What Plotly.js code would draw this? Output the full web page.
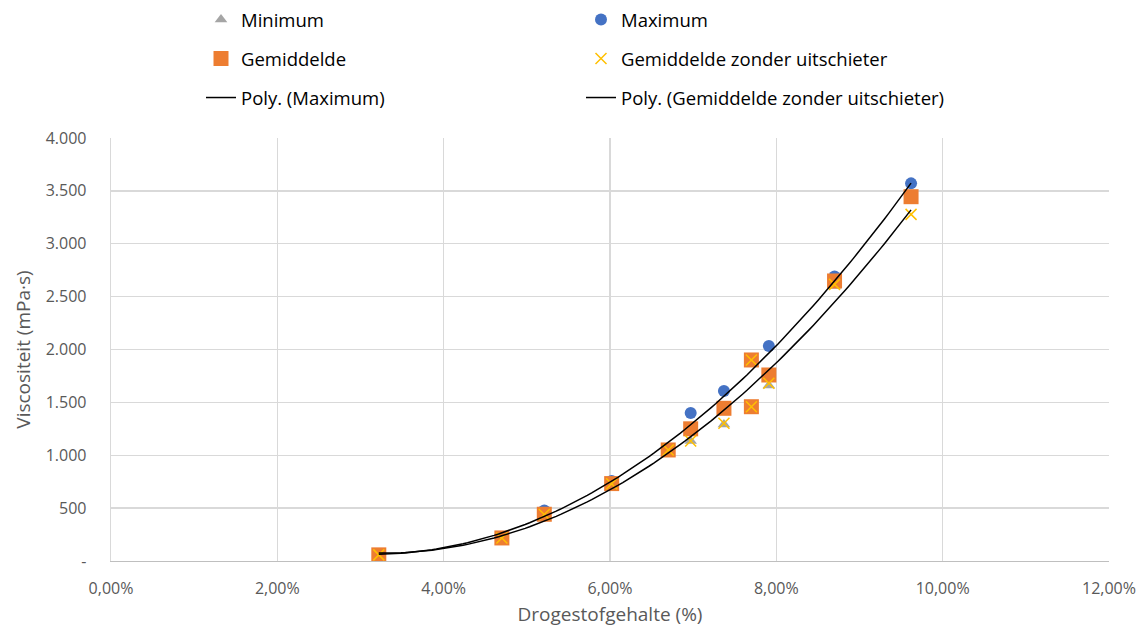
<!DOCTYPE html>
<html><head><meta charset="utf-8">
<script src="https://cdn.plot.ly/plotly-3.0.1.min.js"></script>
<style>body{margin:0;background:#fff}#c{width:1142px;height:627px}</style>
</head><body><div id="c"></div>
<script>
// Data (x in %, viscosity in mPa·s)
const drogestof = [3.22, 4.70, 5.21, 6.02, 6.70, 6.97, 7.37, 7.70, 7.70, 7.91, 8.70, 9.62];
const minimum   = [55, 215, 420, 710, 1040, 1135, 1290, 1895, 1455, 1660, 2600, 3420];
const maximum   = [62, 225, 478, 757, 1060, 1400, 1608, 1905, 1465, 2033, 2690, 3571];
const gemiddelde = [58, 218, 442, 732, 1050, 1250, 1444, 1901, 1459, 1759, 2648, 3445];
const zonderUitschieter = [58, 218, 440, 730, 1050, 1135, 1302, 1901, 1459, 1680, 2616, 3278];
const yTickVals = [0, 500, 1000, 1500, 2000, 2500, 3000, 3500, 4000];
const yTickText = ['-', '500', '1.000', '1.500', '2.000', '2.500', '3.000', '3.500', '4.000'];
const xTickVals = [0, 2, 4, 6, 8, 10, 12];
const xTickText = ['0,00%', '2,00%', '4,00%', '6,00%', '8,00%', '10,00%', '12,00%'];

// least-squares polynomial fit (order 2), like an Excel trendline
function polyfit(xs, ys, order) {
  const n = order + 1;
  const A = Array.from({length: n}, () => new Array(n + 1).fill(0));
  for (let k = 0; k < xs.length; k++) {
    for (let i = 0; i < n; i++) {
      for (let j = 0; j < n; j++) A[i][j] += Math.pow(xs[k], i + j);
      A[i][n] += ys[k] * Math.pow(xs[k], i);
    }
  }
  for (let i = 0; i < n; i++) {
    let p = i;
    for (let r = i + 1; r < n; r++) if (Math.abs(A[r][i]) > Math.abs(A[p][i])) p = r;
    [A[i], A[p]] = [A[p], A[i]];
    for (let r = 0; r < n; r++) {
      if (r === i) continue;
      const f = A[r][i] / A[i][i];
      for (let c = i; c <= n; c++) A[r][c] -= f * A[i][c];
    }
  }
  return A.map((row, i) => row[n] / row[i]);
}
function trend(xs, ys) {
  const c = polyfit(xs, ys, 2);
  const lo = Math.min(...xs), hi = Math.max(...xs);
  const tx = [], ty = [];
  for (let i = 0; i <= 120; i++) {
    const x = lo + (hi - lo) * i / 120;
    tx.push(x); ty.push(c[0] + c[1] * x + c[2] * x * x);
  }
  return {tx, ty};
}
const tMax = trend(drogestof, maximum);
const tZon = trend(drogestof, zonderUitschieter);

const FONT = '"Open Sans", Lato, sans-serif';
const traces = [
  {x: drogestof, y: minimum, mode: 'markers', name: 'Minimum', legend: 'legend',
   marker: {symbol: 'triangle-up', size: 11, color: '#A5A5A5'}},
  {x: drogestof, y: maximum, mode: 'markers', name: 'Maximum', legend: 'legend',
   marker: {symbol: 'circle', size: 12, color: '#4472C4'}},
  {x: drogestof, y: gemiddelde, mode: 'markers', name: 'Gemiddelde', legend: 'legend2',
   marker: {symbol: 'square', size: 15, color: '#ED7D31'}},
  {x: drogestof, y: zonderUitschieter, mode: 'markers', name: 'Gemiddelde zonder uitschieter', legend: 'legend2',
   marker: {symbol: 'x-thin-open', size: 11, color: '#FFC000', line: {color: '#FFC000', width: 1.5}}},
  {x: tMax.tx, y: tMax.ty, mode: 'lines', name: 'Poly. (Maximum)', legend: 'legend3',
   line: {color: '#000', width: 1.5}},
  {x: tZon.tx, y: tZon.ty, mode: 'lines', name: 'Poly. (Gemiddelde zonder uitschieter)', legend: 'legend3',
   line: {color: '#000', width: 1.5}}
];
function leg(yPix) {
  return {orientation: 'h', xref: 'container', yref: 'container', x: 201 / 1142, y: 1 - yPix / 627,
    xanchor: 'left', yanchor: 'middle', entrywidth: 335, entrywidthmode: 'pixels',
    font: {family: FONT, size: 18.5, color: '#000'}, bgcolor: 'rgba(0,0,0,0)', traceorder: 'normal'};
}
const layout = {
  width: 1142, height: 627,
  margin: {l: 111, r: 33, t: 138, b: 66},
  paper_bgcolor: '#fff', plot_bgcolor: '#fff',
  font: {family: FONT, size: 16, color: '#595959'},
  showlegend: true,
  legend: leg(20), legend2: leg(59), legend3: leg(98),
  xaxis: {range: [0, 12], tickvals: xTickVals, ticktext: xTickText, showgrid: true, gridcolor: '#D9D9D9',
    gridwidth: 1.3, zeroline: false, showline: true, linecolor: '#BFBFBF', linewidth: 1.3, ticks: '',
    ticklabelstandoff: 12,
    tickfont: {family: FONT, size: 16, color: '#595959'},
    title: {text: 'Drogestofgehalte (%)', font: {family: FONT, size: 19, color: '#595959'}, standoff: 12}},
  yaxis: {range: [0, 4000], tickvals: yTickVals, ticktext: yTickText, showgrid: true, gridcolor: '#D9D9D9',
    gridwidth: 1.3, zeroline: false, showline: true, linecolor: '#D9D9D9', linewidth: 1.3, ticks: '',
    ticklabelstandoff: 20,
    tickfont: {family: FONT, size: 16, color: '#595959'},
    title: {text: 'Viscositeit (mPa·s)', font: {family: FONT, size: 19, color: '#595959'}, standoff: 10}}
};
Plotly.newPlot('c', traces, layout, {displayModeBar: false, staticPlot: true});
</script></body></html>
